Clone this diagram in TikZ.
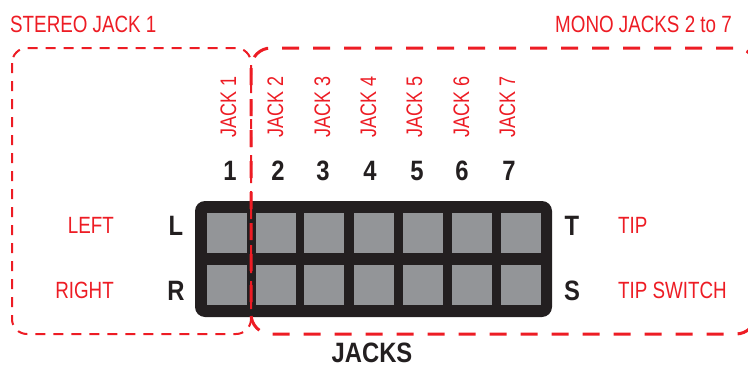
\documentclass[tikz,border=0pt]{standalone}
\usepackage{fontspec}
\newfontfamily\labfont[FakeStretch=0.8]{Liberation Sans}
\newfontfamily\bldfont[FakeStretch=0.85]{Liberation Sans Bold}
\definecolor{jred}{HTML}{ED1C24}
\definecolor{jblack}{HTML}{231F20}
\definecolor{jgray}{HTML}{939598}
\tikzset{
  redlab/.style={text=jred, inner sep=0pt, font=\labfont\fontsize{23.5}{24}\selectfont},
  jacklab/.style={text=jred, inner sep=0pt, rotate=90, anchor=base west, font=\labfont\fontsize{22.5}{23}\selectfont},
  boldlab/.style={text=jblack, inner sep=0pt, font=\bldfont\fontsize{28}{29}\selectfont},
  blackbox/.style={fill=jblack, draw=none, rounded corners=10pt, inner sep=0pt, minimum width=357pt, minimum height=116pt},
  sq/.style={fill=jgray, draw=none, inner sep=0pt, minimum width=40pt, minimum height=40pt},
  thinbox/.style={draw=jred, line width=2pt, dash pattern=on 10pt off 8pt, rounded corners=15pt},
  thickbox/.style={draw=jred, line width=3pt, dash pattern=on 17pt off 14pt, rounded corners=20pt},
}
\begin{document}
\begin{tikzpicture}[x=1pt,y=-1pt]
\useasboundingbox (0,0) rectangle (748,367);
\clip (0,0) rectangle (748,367);
% black jack body
\node[blackbox] (body) at (373.5,259) {};
% squares
\foreach \i/\x in {1/227,2/276,3/324,4/374,5/423,6/472,7/521}{
  \node[sq] (t\i) at (\x,233) {};
  \node[sq] (b\i) at (\x,285) {};
}
% dashed group outlines
\draw[thinbox] (12,48) rectangle (251,334);
\draw[thickbox] (251,48) rectangle (756,334);
% headings
\node[redlab, anchor=base west] (stereo) at (10,32) {STEREO JACK 1};
\node[redlab, anchor=base east] (mono) at (732,32) {MONO JACKS 2 to 7};
% rotated jack labels
\foreach \i/\x in {1/236,2/283,3/330,4/376,5/422,6/469,7/515}{
  \node[jacklab] (j\i) at (\x,138) {JACK \i};
}
% numbers
\foreach \i/\x in {1/230,2/278,3/323,4/370,5/417,6/462,7/509}{
  \node[boldlab, anchor=base] (n\i) at (\x,180) {\i};
}
% L R T S
\node[boldlab, anchor=base] (L) at (176,235) {L};
\node[boldlab, anchor=base] (R) at (176,300) {R};
\node[boldlab, anchor=base] (T) at (572,235) {T};
\node[boldlab, anchor=base] (S) at (572,300) {S};
% side labels
\node[redlab, anchor=base east] (left) at (114,233) {LEFT};
\node[redlab, anchor=base east] (right) at (114,298) {RIGHT};
\node[redlab, anchor=base west] (tip) at (618,233) {TIP};
\node[redlab, anchor=base west] (tipsw) at (618,298) {TIP SWITCH};
% bottom title
\node[boldlab, anchor=base, text depth=0pt] (jacks) at (372,362) {JACKS};
\end{tikzpicture}
\end{document}
